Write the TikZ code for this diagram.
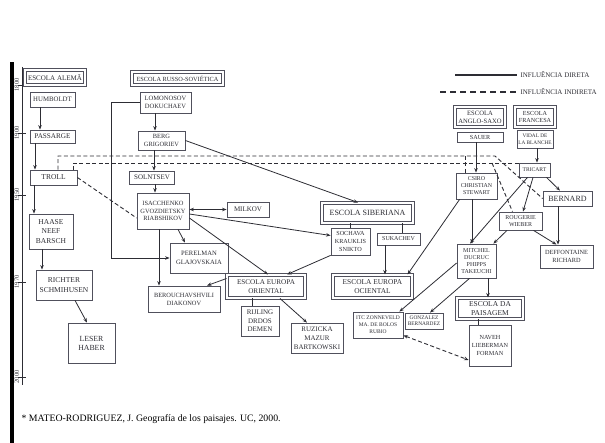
\documentclass[tikz,border=0pt]{standalone}
\usepackage{fontspec}
\setmainfont{Liberation Serif}
\usepackage{tikz}
\usetikzlibrary{arrows.meta}
\definecolor{ink}{RGB}{45,45,52}
\definecolor{frame}{RGB}{80,80,92}

\begin{document}
\begin{tikzpicture}[x=1pt, y=-1pt, >={Stealth[length=4.5pt,width=3.5pt]},
  fs/.style 2 args={font=\fontsize{#1}{#2}\selectfont},
  sz/.style 2 args={minimum width=#1pt, minimum height=#2pt},
  box/.style={draw=frame, line width=0.8pt, fill=white, text=ink, inner sep=0pt, align=center, fs={6.5}{7.5}},
  school/.style={box, line width=1pt, double=white, double distance=1.5pt, fs={7.2}{8.5}},
  link/.style={draw=ink, line width=0.8pt},
  arr/.style={link, ->},
  ind/.style={link, dash pattern=on 4pt off 2.5pt, line width=0.9pt}]
  \useasboundingbox (0,0) rectangle (605,443);

  % Page edge and time axis
  \fill[black] (10,62) rectangle (14,443);
  \draw[ink, line width=0.6pt] (22,67) -- (22,385);
  \foreach \yy/\yr in {85/1800, 133/1900, 195/1950, 282/1970, 377/2000}{
    \draw[ink, line width=0.6pt] (18,\yy) -- (26,\yy);
    \node[rotate=90, text=ink, fs={6.5}{7}] (yr\yr) at (16.8,\yy) {\yr};
  }

  % Legend
  \node[anchor=west, text=ink, fs={7}{8}] (lgdir) at (517,75) {INFLUÊNCIA DIRETA};
  \node[anchor=west, text=ink, fs={7}{8}] (lgind) at (517,92) {INFLUÊNCIA INDIRETA};
  \coordinate (lgA) at (455,75);
  \coordinate (lgB) at (440,92);
  \draw[link, line width=1.2pt] (lgA) -- (lgdir.west);
  \draw[link, line width=1.2pt, dash pattern=on 6pt off 4pt] (lgB) -- (lgind.west);

  % Escola Alemã
  \node[school, sz={60}{15}, fs={7}{8}] (alema) at (55,77.5) {ESCOLA ALEMÃ};
  \node[box, sz={45}{15}, fs={6.8}{8}] (humboldt) at (52.5,99.5) {HUMBOLDT};
  \node[box, sz={45}{13}, fs={7.2}{8}] (passarge) at (52.5,136.5) {PASSARGE};
  \node[box, sz={47}{15}, fs={7.5}{8}] (troll) at (53.5,177.5) {TROLL};
  \node[box, sz={44}{35}, fs={7.5}{9.5}] (haase) at (51,231.5) {HAASE\\NEEF\\BARSCH};
  \node[box, sz={56}{30}, fs={7.5}{9.3}] (richter) at (64,285) {RICHTER\\SCHMIHUSEN};
  \node[box, sz={47}{40}, fs={7.8}{9}] (leser) at (91.5,343) {LESER\\HABER};

  % Escola Russo-Soviética
  \node[school, sz={91}{13}, fs={6.3}{7}] (russo) at (177.5,78.5) {ESCOLA RUSSO-SOVIÉTICA};
  \node[box, sz={51}{21}, fs={6.5}{7.5}] (lomonosov) at (165.5,102.5) {LOMONOSOV\\DOKUCHAEV};
  \node[box, sz={47}{19}, fs={6.4}{7.5}] (berg) at (161.5,140.5) {BERG\\GRIGORIEV};
  \node[box, sz={45}{13}, fs={7}{8}] (solntsev) at (152,177.5) {SOLNTSEV};
  \node[box, sz={52}{36}, fs={6.4}{7.2}] (isacchenko) at (163,211) {ISACCHENKO\\GVOZDIETSKY\\RIABSHIKOV};
  \node[box, sz={42}{15}, fs={7}{8}] (milkov) at (248,209.5) {MILKOV};
  \node[box, sz={58}{30}, fs={6.6}{8.5}] (perelman) at (199,258) {PERELMAN\\GLAJOVSKAIA};
  \node[box, sz={72}{26}, fs={6.4}{8}] (berouch) at (184,299) {BEROUCHAVSHVILI\\DIAKONOV};
  \node[school, sz={78}{23}] (eeo) at (266,286.5) {ESCOLA EUROPA\\ORIENTAL};
  \node[box, sz={38}{30}, fs={7}{8.5}] (rijling) at (260,321) {RIJLING\\DRDOS\\DEMEN};
  \node[box, sz={52}{30}, fs={7}{9}] (ruzicka) at (317,338) {RUZICKA\\MAZUR\\BARTKOWSKI};

  % Escola Siberiana
  \node[school, sz={91}{20}, fs={8}{9}] (siberiana) at (367.5,213) {ESCOLA SIBERIANA};
  \node[box, sz={39}{27}, fs={6.2}{7.8}] (sochava) at (350.5,241.5) {SOCHAVA\\KRAUKLIS\\SNIKTO};
  \node[box, sz={43}{12}, fs={6}{7}] (sukachev) at (398.5,239) {SUKACHEV};
  \node[school, sz={79}{23}, fs={7.4}{8.5}] (eeoc) at (372.5,286.5) {ESCOLA EUROPA\\OCIENTAL};
  \node[box, sz={50}{26}, fs={5.5}{6.8}] (itc) at (378,325) {ITC ZONNEVELD\\MA. DE BOLOS\\RUBIO};
  \node[box, sz={38}{16}, fs={5.4}{6.2}] (gonzalez) at (424,321) {GONZALEZ\\BERNARDEZ};

  % Escola Anglo-Saxo e Escola Francesa
  \node[school, sz={50}{20}, fs={6.6}{7.8}] (anglo) at (480,117) {ESCOLA\\ANGLO-SAXO};
  \node[school, sz={40}{20}, fs={6.2}{7.8}] (francesa) at (535,117) {ESCOLA\\FRANCESA};
  \node[box, sz={46}{10}, fs={6.2}{7}] (sauer) at (480,137) {SAUER};
  \node[box, sz={36}{18}, fs={5.3}{6.8}] (vidal) at (535,139) {VIDAL DE\\LA BLANCHE};
  \node[box, sz={31}{14}, fs={5.6}{6.5}] (tricart) at (534.5,170) {TRICART};
  \node[box, sz={41}{26}, fs={5.9}{7}] (csiro) at (476.5,186) {CSIRO\\CHRISTIAN\\STEWART};
  \node[box, sz={49}{15}, fs={8}{9}] (bernard) at (567.5,198.5) {BERNARD};
  \node[box, sz={43}{18}, fs={6}{7}] (rougerie) at (520.5,221) {ROUGERIE\\WIEBER};
  \node[box, sz={53}{23}, fs={6.3}{7.5}] (deffontaine) at (566.5,256.5) {DEFFONTAINE\\RICHARD};
  \node[box, sz={39}{34}, fs={6}{7.2}] (mitchel) at (476.5,261) {MITCHEL\\DUCRUC\\PHIPPS\\TAKEUCHI};
  \node[school, sz={66}{21}, fs={7.5}{9}] (paisagem) at (490,308.5) {ESCOLA DA\\PAISAGEM};
  \node[box, sz={42}{41}, fs={6.2}{8}] (naveh) at (490,345.5) {NAVEH\\LIEBERMAN\\FORMAN};

  % Direct influences
  \draw[arr] ([xshift=-12.5pt]humboldt.south) -- ([xshift=-12.5pt]passarge.north);
  \draw[arr] ([xshift=-17.5pt]passarge.south) -- ([xshift=-18.5pt]troll.north);
  \draw[arr] ([xshift=-19.5pt]troll.south) -- ([xshift=-17pt]haase.north);
  \draw[arr] ([xshift=-9pt]haase.south) -- ([xshift=-22pt]richter.north);
  \draw[arr] ([xshift=11pt]richter.south) -- ([xshift=-4.5pt]leser.north);

  \draw[arr] ([xshift=-10.5pt]lomonosov.south) -- ([xshift=-6.5pt]berg.north);
  \draw[arr] ([xshift=-7.5pt]berg.south) -- ([xshift=2pt]solntsev.north);
  \draw[arr] ([xshift=3pt]solntsev.south) -- ([xshift=-8pt]isacchenko.north);
  \draw[arr] (lomonosov.west) -- ++(-28,0) |- (perelman.west);
  \draw[arr] (berg.east) -- ([xshift=-9.5pt]siberiana.north);
  \draw[link, <->] (isacchenko.east |- milkov.west) -- (milkov.west);
  \draw[arr] ([xshift=15pt]isacchenko.south) -- ([xshift=-14pt]perelman.north);
  \draw[arr] ([xshift=-4pt]isacchenko.south) -- ([xshift=-25pt]berouch.north);
  \draw[arr] ([yshift=-7pt]isacchenko.east) -- ([xshift=2pt]eeo.north);
  \draw[arr] ([yshift=-3pt]isacchenko.east) -- ([yshift=6pt]sochava.west);
  \draw[arr] (sochava.south west) -- ([xshift=21pt]eeo.north);
  \draw[arr] ([yshift=8pt]eeo.west) -- ([xshift=23pt]berouch.north);
  \draw[link] ([xshift=-14pt]eeo.south) -- ([xshift=-8pt]rijling.north);
  \draw[arr] ([xshift=14pt]eeo.south) -- ([xshift=-10pt]ruzicka.north);

  \draw[link] ([xshift=-17.5pt]siberiana.south) -- ([xshift=-0.5pt]sochava.north);
  \draw[link] ([xshift=34.5pt]siberiana.south) -- ([xshift=3.5pt]sukachev.north);
  \draw[arr] ([xshift=-13.5pt]sukachev.south) -- ([xshift=12.5pt]eeoc.north);
  \draw[arr] ([xshift=4pt]csiro.south west) -- ([xshift=35pt]eeoc.north);

  \draw[arr] ([xshift=-4pt]sauer.south) -- ([xshift=-0.5pt]csiro.north);
  \draw[arr] ([xshift=2pt]vidal.south) -- ([xshift=2.5pt]tricart.north);
  \draw[arr] ([xshift=-7pt]tricart.south) -- ([xshift=-6.5pt]mitchel.north);
  \draw[arr] ([xshift=-1.5pt]tricart.south) -- ([xshift=2.5pt]rougerie.north);
  \draw[arr] ([xshift=12pt]tricart.south) -- ([xshift=-7.5pt]bernard.north);
  \draw[arr] ([xshift=-9.5pt]bernard.south) -- ([xshift=-8.5pt]deffontaine.north);
  \draw[arr] ([xshift=13pt]rougerie.south) -- ([xshift=-10pt]deffontaine.north);
  \draw[arr] ([xshift=-13.5pt]rougerie.south) -- ([xshift=-3pt]mitchel.north east);
  \draw[arr] ([xshift=-4.5pt]csiro.south) -- ([xshift=-4.5pt]mitchel.north);
  \draw[arr] ([yshift=-2pt]mitchel.west) -- ([xshift=-4pt]itc.north east);
  \draw[arr] ([xshift=-7pt]mitchel.south) -- ([xshift=6pt]gonzalez.north);
  \draw[arr] ([xshift=11.5pt]mitchel.south) -- ([xshift=-2pt]paisagem.north);
  \draw[link] ([xshift=-12pt]paisagem.south) -- ([xshift=-12pt]naveh.north);

  % Indirect influences
  \coordinate (dtop) at (495,156);
  \coordinate (dcs) at (465,156);
  \coordinate (drg) at (492,163);
  \draw[ind] ([xshift=4.5pt]troll.north) |- (dtop) -- (bernard.west);
  \draw[ind] (dcs) -- (dcs |- csiro.north);
  \draw[ind] ([xshift=19.5pt]troll.north) |- ([yshift=7pt]tricart.west);
  \draw[ind] (drg) -- ([xshift=-8pt]rougerie.north);
  \draw[ind] (troll.east) -- ([yshift=-7pt]isacchenko.west);
  \draw[ind, <->] ([yshift=3pt]itc.south east) -- ([yshift=-14.5pt]naveh.west);

  % Source
  \node[anchor=west, fs={9.8}{11}] (fonte) at (18,419) {* MATEO-RODRIGUEZ, J. Geografía de los paisajes. UC, 2000.};
\end{tikzpicture}
\end{document}
